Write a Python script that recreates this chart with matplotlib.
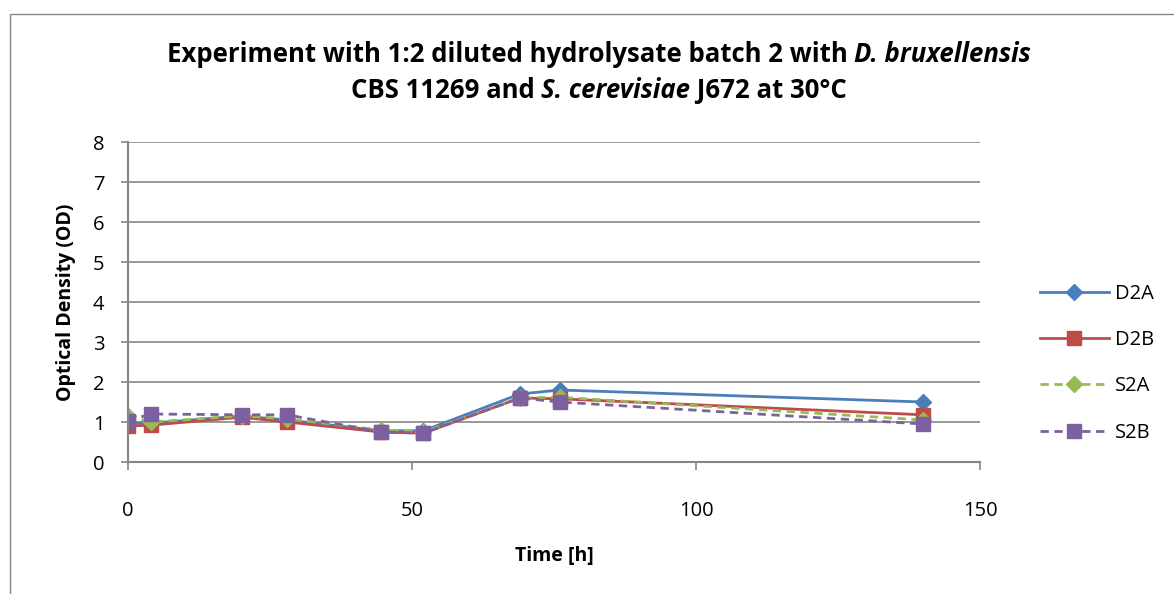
import matplotlib

matplotlib.use("Agg")
import matplotlib.pyplot as plt
from matplotlib.patches import Rectangle

plt.rcParams["font.family"] = ["Open Sans", "DejaVu Sans"]

time_h = [0, 4, 20, 28, 44.5, 52, 69, 76, 140]
d2a = [0.97, 0.97, 1.15, 1.05, 0.78, 0.78, 1.70, 1.80, 1.50]
d2b = [0.90, 0.92, 1.12, 1.00, 0.75, 0.72, 1.60, 1.58, 1.18]
s2a = [1.15, 1.00, 1.15, 1.08, 0.80, 0.75, 1.60, 1.62, 1.05]
s2b = [1.03, 1.20, 1.18, 1.18, 0.75, 0.72, 1.60, 1.50, 0.95]

series = [
    ("D2A", d2a, "#4A7EBB", "D", "-"),
    ("D2B", d2b, "#BE4B48", "s", "-"),
    ("S2A", s2a, "#98B954", "D", (0, (3, 2))),
    ("S2B", s2b, "#7D60A0", "s", (0, (3, 2))),
]

grey = "#868686"

fig = plt.figure(figsize=(11.74, 5.94), dpi=100)
ax = fig.add_axes([128 / 1174, 132 / 594, 852 / 1174, 320 / 594])

for name, vals, color, marker, ls in series:
    ax.plot(
        time_h,
        vals,
        color=color,
        linestyle=ls,
        linewidth=2.0,
        marker=marker,
        markersize=8.5 if marker == "D" else 10,
        markerfacecolor=color,
        markeredgecolor=color,
        label=name,
    )

ax.set_xlim(0, 150)
ax.set_ylim(0, 8)
ax.set_xticks([0, 50, 100, 150])
ax.set_yticks(range(0, 9))
ax.yaxis.grid(True, color=grey, linewidth=1.2)
ax.set_axisbelow(True)
for side in ["top", "right"]:
    ax.spines[side].set_visible(False)
for side in ["left", "bottom"]:
    ax.spines[side].set_color(grey)
    ax.spines[side].set_linewidth(1.5)
ax.tick_params(axis="x", colors=grey, labelcolor="black", length=6, width=1.2,
               pad=22, labelsize=14.5)
ax.tick_params(axis="y", colors=grey, labelcolor="black", length=5, width=1.2,
               pad=12, labelsize=14.5)

ax.set_xlabel("Time [h]", fontsize=14, fontweight="bold", labelpad=18)
ax.set_ylabel("Optical Density (OD)", fontsize=14, fontweight="bold", labelpad=12)

ax.legend(
    loc="upper left",
    bbox_to_anchor=(1022 / 1174, 1 - 266 / 594),
    bbox_transform=fig.transFigure,
    frameon=False,
    fontsize=14.5,
    handlelength=3.4,
    labelspacing=1.3,
    handletextpad=0.3,
)

# outer chart-area border
fig.patches.append(
    Rectangle((10 / 1174, -0.1), 1.2, (594 - 14) / 594 + 0.1,
              transform=fig.transFigure, fill=False, edgecolor=grey, linewidth=1)
)

# title with mixed bold / bold-italic segments
renderer = fig.canvas.get_renderer()


def draw_line(parts, y, cx):
    texts = []
    for text, style in parts:
        t = fig.text(0, y, text, fontsize=18.5, fontweight="bold", fontstyle=style,
                     va="center", ha="left")
        texts.append(t)
    widths = [t.get_window_extent(renderer).width for t in texts]
    x = cx * fig.bbox.width - sum(widths) / 2
    for t, w in zip(texts, widths):
        t.set_x(x / fig.bbox.width)
        x += w


draw_line([("Experiment with 1:2 diluted hydrolysate batch 2 with ", "normal"),
           ("D. bruxellensis", "italic")], 1 - 55 / 594, 599 / 1174)
draw_line([("CBS 11269 and ", "normal"), ("S. cerevisiae", "italic"),
           (" J672 at 30°C", "normal")], 1 - 90 / 594, 599 / 1174)

fig.savefig("out.png", dpi=100)
